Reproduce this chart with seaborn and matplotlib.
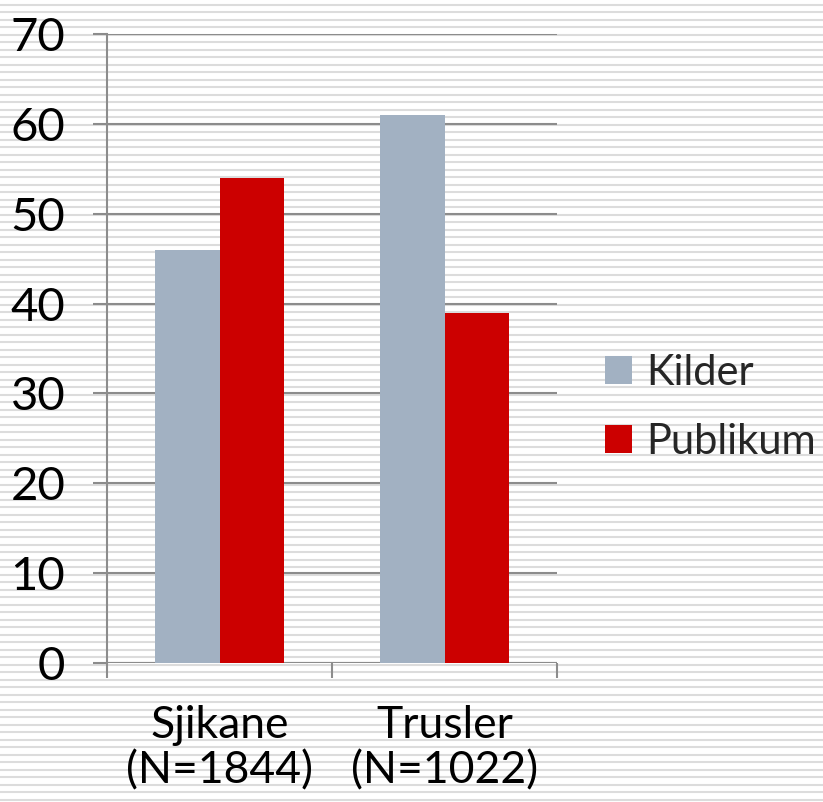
import matplotlib
matplotlib.use("Agg")
import matplotlib.pyplot as plt
import numpy as np
import pandas as pd
import seaborn as sns

categories = ["Sjikane\n(N=1844)", "Trusler\n(N=1022)"]
series = ["Kilder", "Publikum"]
kilder = [46, 61]
publikum = [54, 39]
colors = {"Kilder": "#A2B1C2", "Publikum": "#CC0000"}

df = pd.DataFrame({
    "category": categories * 2,
    "series": ["Kilder"] * 2 + ["Publikum"] * 2,
    "value": kilder + publikum,
})

sns.set_theme(style="white")
plt.rcParams["font.family"] = ["Lato", "DejaVu Sans"]

W, H = 823, 802
fig = plt.figure(figsize=(W / 100, H / 100), dpi=100)
fig.patch.set_facecolor("white")

# striped background across the whole figure
bg = fig.add_axes([0, 0, 1, 1], zorder=-1)
bg.set_xlim(0, W)
bg.set_ylim(H, 0)
for y in np.arange(4.5, H, 7.5):
    bg.axhline(y, color="#dcdcdc", lw=1.5)
bg.axis("off")

ax = fig.add_axes([107 / W, (H - 663) / H, (557 - 107) / W, (663 - 34) / H])
ax.patch.set_alpha(0)

sns.barplot(data=df, x="category", y="value", hue="series", palette=colors,
            width=0.573, gap=0, saturation=1, linewidth=0, ax=ax, zorder=3)

ax.set_ylim(0, 70)
ax.set_xlim(-0.5, 1.5)
ax.set_yticks(np.arange(0, 71, 10))
ax.yaxis.grid(True, color="#8c8c8c", lw=1.5, zorder=1)
ax.set_axisbelow(True)
for s in ["top", "right", "bottom"]:
    ax.spines[s].set_visible(False)
ax.spines["left"].set_color("#8c8c8c")
ax.spines["left"].set_linewidth(1.5)
ax.axhline(0, color="#8c8c8c", lw=1.5, zorder=2)

ax.tick_params(axis="y", left=True, direction="out", length=10, width=1.5, color="#8c8c8c",
               pad=20, labelsize=34, labelcolor="black")
ax.tick_params(axis="x", which="major", length=0, pad=30, labelsize=32, labelcolor="black")
ax.set_xticks([-0.5, 0.5, 1.5], minor=True)
ax.tick_params(axis="x", which="minor", bottom=True, direction="out", length=11, width=1.5,
               color="#8c8c8c")
for lbl in ax.get_xticklabels():
    lbl.set_linespacing(1.15)
ax.set_xlabel("")
ax.set_ylabel("")

ax.legend_.remove()
handles, labels = ax.get_legend_handles_labels()
fig.legend(handles, labels, loc="center left", bbox_to_anchor=(605 / W, 0.492),
           frameon=False, fontsize=30, handlelength=0.65, handleheight=0.65,
           handletextpad=0.35, labelspacing=0.75, borderpad=0, borderaxespad=0)

fig.savefig("out.png", dpi=100, facecolor="white")
